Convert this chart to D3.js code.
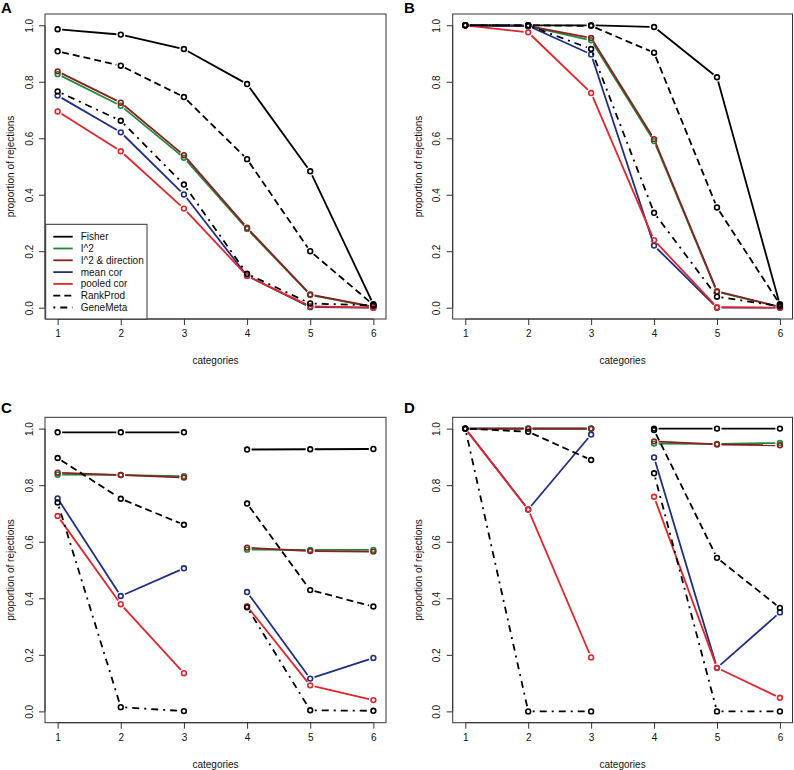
<!DOCTYPE html>
<html><head><meta charset="utf-8">
<script src="https://cdn.jsdelivr.net/npm/d3@7"></script>
<style>body{margin:0;background:#fff}svg{display:block;font-family:"Liberation Sans",Arial,Helvetica,sans-serif}</style>
</head><body><svg id="c" width="794" height="770"></svg>
<script>
const categories = [1, 2, 3, 4, 5, 6];
const seriesNames = ["Fisher", "I^2", "I^2 & direction", "mean cor", "pooled cor", "RankProd", "GeneMeta"];
const seriesColors = ["#000000", "#1f8a3a", "#8b1f1f", "#1f2f82", "#e0262b", "#000000", "#000000"];
const seriesDash = [null, null, null, null, null, "7,4", "2,5,7,5"];
const yTicks = [0.0, 0.2, 0.4, 0.6, 0.8, 1.0];

// Panel A
const fisherA   = [0.986, 0.967, 0.916, 0.792, 0.483, 0.012];
const i2A       = [0.827, 0.715, 0.531, 0.279, 0.045, 0.003];
const i2dirA    = [0.837, 0.726, 0.540, 0.283, 0.047, 0.003];
const meanCorA  = [0.751, 0.621, 0.401, 0.113, 0.002, 0.000];
const pooledA   = [0.695, 0.554, 0.351, 0.113, 0.005, 0.000];
const rankProdA = [0.908, 0.857, 0.746, 0.526, 0.200, 0.010];
const geneMetaA = [0.766, 0.662, 0.436, 0.120, 0.015, 0.008];
// Panel B
const fisherB   = [1.000, 1.000, 1.000, 0.994, 0.816, 0.010];
const i2B       = [1.000, 0.997, 0.947, 0.590, 0.056, 0.003];
const i2dirB    = [1.000, 0.997, 0.955, 0.597, 0.058, 0.003];
const meanCorB  = [1.000, 0.998, 0.897, 0.220, 0.000, 0.000];
const pooledB   = [1.000, 0.975, 0.760, 0.239, 0.002, 0.000];
const rankProdB = [1.000, 1.000, 0.998, 0.903, 0.355, 0.012];
const geneMetaB = [1.000, 1.000, 0.916, 0.336, 0.039, 0.005];
// Panel C
const fisherC   = [0.987, 0.987, 0.987, 0.926, 0.927, 0.928];
const i2C       = [0.837, 0.836, 0.832, 0.572, 0.571, 0.571];
const i2dirC    = [0.844, 0.836, 0.827, 0.579, 0.567, 0.565];
const meanCorC  = [0.753, 0.408, 0.506, 0.422, 0.116, 0.189];
const pooledC   = [0.691, 0.379, 0.135, 0.372, 0.092, 0.040];
const rankProdC = [0.896, 0.752, 0.660, 0.735, 0.429, 0.371];
const geneMetaC = [0.739, 0.015, 0.001, 0.368, 0.004, 0.002];
// Panel D
const fisherD   = [1.000, 1.000, 1.000, 1.000, 1.000, 1.000];
const i2D       = [1.000, 1.000, 1.000, 0.947, 0.946, 0.949];
const i2dirD    = [1.000, 1.000, 1.000, 0.955, 0.944, 0.941];
const meanCorD  = [1.000, 0.714, 0.979, 0.898, 0.154, 0.350];
const pooledD   = [1.000, 0.714, 0.191, 0.759, 0.154, 0.048];
const rankProdD = [1.000, 0.989, 0.889, 0.995, 0.543, 0.366];
const geneMetaD = [1.000, 0.000, 0.000, 0.842, 0.000, 0.000];

const panels = [
  {letter: "A", lx: 1, ly: 13, box: [45, 14, 386, 319], series: [fisherA, i2A, i2dirA, meanCorA, pooledA, rankProdA, geneMetaA], groups: [[0,5]], legend: true},
  {letter: "B", lx: 404, ly: 13, box: [452.7, 14, 792.5, 319], series: [fisherB, i2B, i2dirB, meanCorB, pooledB, rankProdB, geneMetaB], groups: [[0,5]]},
  {letter: "C", lx: 1, ly: 412.5, box: [45, 417.3, 386, 722.7], series: [fisherC, i2C, i2dirC, meanCorC, pooledC, rankProdC, geneMetaC], groups: [[0,2],[3,5]]},
  {letter: "D", lx: 404, ly: 412.5, box: [452.7, 417.3, 792.5, 722.7], series: [fisherD, i2D, i2dirD, meanCorD, pooledD, rankProdD, geneMetaD], groups: [[0,2],[3,5]]}
];

const svg = d3.select("#c");
const FS = 10;

panels.forEach(p => {
  const [x0, y0, x1, y1] = p.box;
  const x = d3.scaleLinear().domain([0.8, 6.2]).range([x0, x1]);
  const y = d3.scaleLinear().domain([-0.04, 1.04]).range([y1, y0]);
  const g = svg.append("g");

  // panel letter
  g.append("text").attr("x", p.lx).attr("y", p.ly).attr("font-size", 15).attr("font-weight", "bold").text(p.letter);

  // x axis
  const xAxis = d3.axisBottom(x).tickValues(categories).tickSize(6).tickPadding(5).tickFormat(d3.format("d"));
  const gx = g.append("g").attr("transform", `translate(0,${y1})`).call(xAxis);
  gx.select(".domain").attr("d", `M${x(1)},0H${x(6)}`).attr("stroke", "#333");
  gx.selectAll(".tick line").attr("stroke", "#333");
  gx.selectAll("text").attr("font-size", FS).attr("fill", "#111").attr("font-family", "Liberation Sans, Arial, sans-serif");

  // y axis
  const yAxis = d3.axisLeft(y).tickValues(yTicks).tickSize(6).tickFormat(d3.format(".1f"));
  const gy = g.append("g").attr("transform", `translate(${x0},0)`).call(yAxis);
  gy.select(".domain").attr("d", `M0,${y(0)}V${y(1)}`).attr("stroke", "#333");
  gy.selectAll(".tick line").attr("stroke", "#333");
  gy.selectAll(".tick text").attr("x", null).attr("dy", null)
    .attr("transform", "translate(-16,0) rotate(-90)")
    .attr("text-anchor", "middle").attr("dominant-baseline", "central")
    .attr("font-size", FS).attr("fill", "#111").attr("font-family", "Liberation Sans, Arial, sans-serif");

  // axis titles
  g.append("text").attr("x", (x0 + x1) / 2).attr("y", y1 + 45).attr("text-anchor", "middle")
    .attr("font-size", FS).attr("fill", "#111").text("categories");
  g.append("text").attr("transform", `translate(${x0 - 31},${(y0 + y1) / 2}) rotate(-90)`)
    .attr("text-anchor", "middle").attr("font-size", FS).attr("fill", "#111").text("proportion of rejections");

  // box
  g.append("rect").attr("x", x0).attr("y", y0).attr("width", x1 - x0).attr("height", y1 - y0)
    .attr("fill", "none").attr("stroke", "#333").attr("stroke-width", 1);

  // series
  const gap = 4.5;
  p.series.forEach((vals, si) => {
    const sg = g.append("g");
    p.groups.forEach(([a, b]) => {
      for (let i = a; i < b; i++) {
        const ax = x(categories[i]), ay = y(vals[i]);
        const bx = x(categories[i + 1]), by = y(vals[i + 1]);
        const dx = bx - ax, dy = by - ay, L = Math.hypot(dx, dy);
        if (L <= 2 * gap) continue;
        const ux = dx / L, uy = dy / L;
        sg.append("line")
          .attr("x1", ax + ux * gap).attr("y1", ay + uy * gap)
          .attr("x2", bx - ux * gap).attr("y2", by - uy * gap)
          .attr("stroke", seriesColors[si]).attr("stroke-width", 1.8)
          .attr("stroke-dasharray", seriesDash[si]);
      }
    });
    sg.selectAll("circle").data(vals).join("circle")
      .attr("cx", (d, i) => x(categories[i])).attr("cy", d => y(d)).attr("r", 2.4)
      .attr("fill", "none").attr("stroke", seriesColors[si]).attr("stroke-width", 1.6);
  });

  // legend
  if (p.legend) {
    const lg = g.append("g");
    const lx0 = 45.7, ly0 = 224.3, lw = 101.3, lh = 94.7;
    lg.append("rect").attr("x", lx0).attr("y", ly0).attr("width", lw).attr("height", lh)
      .attr("fill", "#fff").attr("stroke", "#333").attr("stroke-width", 1);
    seriesNames.forEach((name, i) => {
      const yy = ly0 + 12.4 + i * 11.8;
      lg.append("line").attr("x1", lx0 + 7.6).attr("x2", lx0 + 27).attr("y1", yy).attr("y2", yy)
        .attr("stroke", seriesColors[i]).attr("stroke-width", 1.8).attr("stroke-dasharray", seriesDash[i]);
      lg.append("text").attr("x", lx0 + 35).attr("y", yy).attr("dominant-baseline", "central")
        .attr("font-size", FS).attr("fill", "#111").text(name);
    });
  }
});
</script></body></html>
